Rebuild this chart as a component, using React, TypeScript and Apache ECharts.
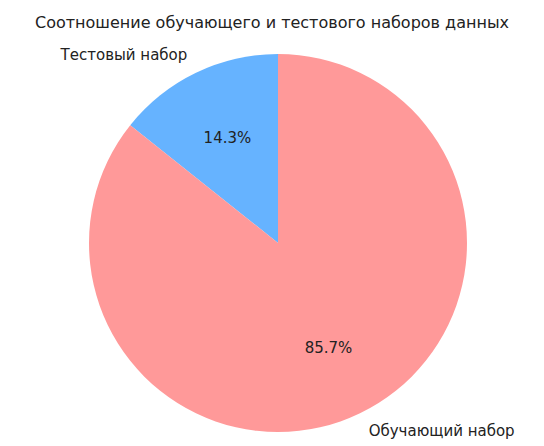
import React, { useEffect, useRef } from "react";
import * as echarts from "echarts";

const TITLE = "Соотношение обучающего и тестового наборов данных";
const CATEGORIES = ["Тестовый набор", "Обучающий набор"];
const VALUES = [10000, 60000];
const COLORS = ["#66b3ff", "#ff9999"];

export default function App() {
  const ref = useRef<HTMLDivElement>(null);
  useEffect(() => {
    if (!ref.current) return;
    const chart = echarts.init(ref.current, null, { renderer: "svg" });
    const data = CATEGORIES.map((name, i) => ({
      name,
      value: VALUES[i],
      itemStyle: { color: COLORS[i] },
    }));
    const R = 189;
    const center = [278, 243];
    chart.setOption({
      animation: false,
      backgroundColor: "#ffffff",
      title: {
        text: TITLE,
        left: "center",
        top: 9,
        textStyle: {
          fontFamily: "DejaVu Sans",
          fontSize: 16,
          fontWeight: "normal",
          color: "#222",
        },
      },
      series: [
        {
          type: "pie",
          center,
          radius: [0, R],
          startAngle: 90,
          clockwise: false,
          percentPrecision: 1,
          silent: true,
          avoidLabelOverlap: false,
          data,
          label: {
            show: true,
            position: "outside",
            formatter: "{b}",
            fontFamily: "DejaVu Sans",
            fontSize: 15,
            color: "#222",
            distanceToLabelLine: 0,
          },
          labelLine: { show: false, length: 20, length2: 0 },
        },
        {
          type: "pie",
          center,
          radius: [38, R],
          startAngle: 90,
          clockwise: false,
          percentPrecision: 1,
          silent: true,
          data: data.map((d) => ({ ...d, itemStyle: { color: "transparent" } })),
          label: {
            show: true,
            position: "inside",
            formatter: "{d}%",
            fontFamily: "DejaVu Sans",
            fontSize: 15,
            color: "#222",
          },
          labelLine: { show: false },
        },
      ],
    });
    return () => chart.dispose();
  }, []);
  return (
    <div
      ref={ref}
      style={{ position: "absolute", left: 0, top: 0, width: 544, height: 446 }}
    />
  );
}
